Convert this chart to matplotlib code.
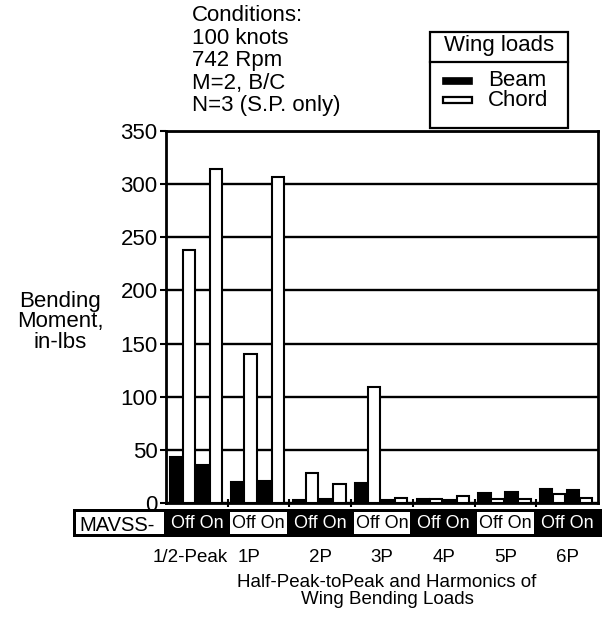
import numpy as np
import matplotlib
matplotlib.use("Agg")
import matplotlib.pyplot as plt
import matplotlib.transforms as mtransforms
from matplotlib.patches import Rectangle
from matplotlib.lines import Line2D

# -------------------------
# data
# -------------------------
categories = ["1/2-Peak", "1P", "2P", "3P", "4P", "5P", "6P"]
beam_off = [43, 20, 3, 19, 4, 9, 13]
chord_off = [238, 140, 28, 109, 4, 4, 8]
beam_on = [36, 21, 4, 3, 3, 10, 12]
chord_on = [314, 307, 18, 5, 7, 4, 5]
yticks = [0, 50, 100, 150, 200, 250, 300, 350]

conditions = ["Conditions:", "100 knots", "742 Rpm", "M=2, B/C", "N=3 (S.P. only)"]
legend_title = "Wing loads"
series_names = ["Beam", "Chord"]
row_label = "MAVSS-"
switch_label = "Off On"
ylabel = "Bending\nMoment,\nin-lbs"
xlabel = "Half-Peak-toPeak and Harmonics of\nWing Bending Loads"

plt.rcParams['font.family'] = ['Liberation Sans', 'DejaVu Sans']

W, H = 608, 631
fig = plt.figure(figsize=(W / 100, H / 100), dpi=100)

# helpers: pixel (from top-left) -> figure fraction
def fx(px):
    return px / W

def fy(py):
    return 1 - py / H

# -------------------------
# main axes
# -------------------------
ax_l, ax_r, ax_t, ax_b = 166, 598, 131, 503
ax = fig.add_axes([fx(ax_l), fy(ax_b), (ax_r - ax_l) / W, (ax_b - ax_t) / H])

x = np.arange(len(categories))
bw = 0.2
kw = dict(width=bw, edgecolor='black', linewidth=1.5, zorder=3)
ax.bar(x + 0.16, beam_off, color='black', **kw)
ax.bar(x + 0.37, chord_off, color='white', **kw)
ax.bar(x + 0.60, beam_on, color='black', **kw)
ax.bar(x + 0.81, chord_on, color='white', **kw)

ax.set_xlim(0, len(categories))
ax.set_ylim(0, 350)
ax.set_yticks(yticks)
ax.yaxis.grid(True, color='black', linewidth=1.7)
ax.set_axisbelow(True)
for s in ax.spines.values():
    s.set_linewidth(2)

ax.tick_params(axis='y', direction='out', length=4, width=1.5, labelsize=16, pad=2)
ax.set_xticks(x + 0.5)
ax.set_xticklabels(categories)
ax.tick_params(axis='x', which='major', length=0, labelsize=13.5, pad=33)
ax.set_xticks(np.arange(1, len(categories)), minor=True)
ax.tick_params(axis='x', which='minor', direction='inout', length=6, width=1.5)

# first two labels sit a little left of their group in the original
for lab, dx in zip(ax.get_xticklabels()[:2], [-7, -10]):
    lab.set_transform(lab.get_transform() +
                      mtransforms.ScaledTranslation(dx / 100, 0, fig.dpi_scale_trans))

# -------------------------
# MAVSS on/off strip under the axes
# -------------------------
gw = (ax_r - ax_l) / len(categories)
tb_l, tb_r, tb_t, tb_b = 73, 602, 509, 537
tab = fig.add_axes([fx(tb_l), fy(tb_b), (tb_r - tb_l) / W, (tb_b - tb_t) / H])
tab.set_xlim((tb_l - ax_l) / gw, (tb_r - ax_l) / gw)
tab.set_ylim(0, 1)
tab.axis('off')
x0 = (tb_l - ax_l) / gw
tab.add_patch(Rectangle((x0, 0), len(categories) - x0 + (tb_r - ax_r) / gw, 1,
                        facecolor='black', edgecolor='black', lw=0))
ix, iy = 2.5 / gw, 0.1
tab.add_patch(Rectangle((x0 + ix, iy), -x0 - 2 * ix, 1 - 2 * iy,
                        facecolor='white', lw=0))
tab.text((79 - ax_l) / gw, 0.22, row_label, ha='left', va='baseline', fontsize=14.5)
for i in range(len(categories)):
    if i % 2 == 1:
        tab.add_patch(Rectangle((i + ix, iy), 1 - 2 * ix, 1 - 2 * iy,
                                facecolor='white', lw=0))
        col = 'black'
    else:
        col = 'white'
    tab.text(i + 0.5, 0.5, switch_label, ha='center', va='center',
             fontsize=13, color=col)

# -------------------------
# text blocks
# -------------------------
fig.text(fx(192), fy(5), "\n".join(conditions), ha='left', va='top',
         fontsize=16, linespacing=1.1)
fig.text(fx(60), fy(322), ylabel, ha='center', va='center',
         fontsize=16, linespacing=1.0)
fig.text(fx(387), fy(591), xlabel, ha='center', va='center',
         fontsize=13.5, linespacing=1.05)

# -------------------------
# legend box
# -------------------------
lg_l, lg_r, lg_t, lg_b = 430, 568, 32, 128
fig.add_artist(Rectangle((fx(lg_l), fy(lg_b)), (lg_r - lg_l) / W, (lg_b - lg_t) / H,
                         transform=fig.transFigure, facecolor='white',
                         edgecolor='black', lw=1.6))
fig.add_artist(Line2D([fx(lg_l), fx(lg_r)], [fy(62), fy(62)],
                      transform=fig.transFigure, color='black', lw=1.6))
fig.text(fx((lg_l + lg_r) / 2), fy(46), legend_title, ha='center', va='center', fontsize=16)
fig.add_artist(Rectangle((fx(443), fy(84)), 29 / W, 6 / H, transform=fig.transFigure,
                         facecolor='black', edgecolor='black', lw=1.2))
fig.add_artist(Rectangle((fx(443), fy(103)), 29 / W, 6 / H, transform=fig.transFigure,
                         facecolor='white', edgecolor='black', lw=1.6))
fig.text(fx(488), fy(80), series_names[0], ha='left', va='center', fontsize=16)
fig.text(fx(488), fy(101), series_names[1], ha='left', va='center', fontsize=16)

fig.savefig("out.png", dpi=100, facecolor='white')
